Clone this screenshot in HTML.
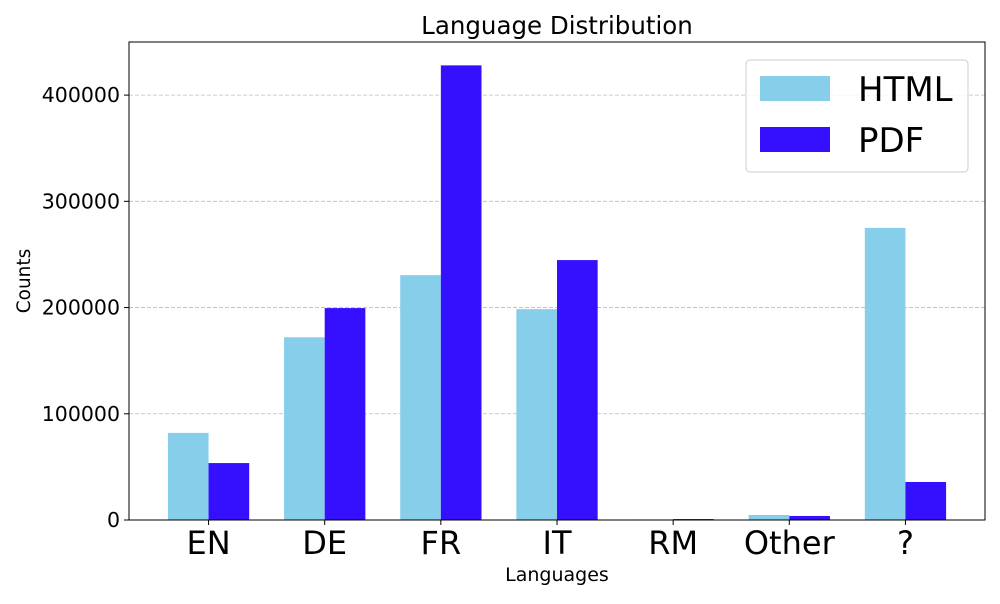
<!DOCTYPE html>
<html><head><meta charset="utf-8"><style>
body{margin:0;background:#fff;font-family:"DejaVu Sans","Liberation Sans",sans-serif}
</style></head><body>
<svg width="1000" height="600" xmlns="http://www.w3.org/2000/svg" font-family="DejaVu Sans, Liberation Sans, sans-serif">
<text x="557" y="34" text-anchor="middle" font-size="24.5">Language Distribution</text>
<g id="grid"></g>
<g id="bars"></g>
<rect x="129" y="42" width="856" height="478" fill="none" stroke="#000" stroke-width="1"/>
<g id="axes"></g>
<text x="557" y="581" text-anchor="middle" font-size="19">Languages</text>
<text transform="translate(30,281) rotate(-90)" text-anchor="middle" font-size="18.5">Counts</text>
<g>
<rect x="746" y="60" width="222" height="112" rx="4" fill="#fff" fill-opacity="0.8" stroke="#ccc"/>
<rect x="760" y="76" width="70" height="25" fill="#87CEEB"/>
<text x="858" y="101" font-size="34">HTML</text>
<rect x="760" y="127" width="70" height="25" fill="#3410FF"/>
<text x="858" y="152" font-size="34">PDF</text>
</g>
</svg>
<script>
const categories=["EN","DE","FR","IT","RM","Other","?"];
const htmlValues=[82000,172000,230500,198500,500,4700,275000];
const pdfValues=[53600,199500,428000,244700,900,3800,35800];
const yTicks=[0,100000,200000,300000,400000];
const NS="http://www.w3.org/2000/svg";
const x0=129,x1=985,yBase=520,yTop=42;
const xmin=-0.685,xmax=6.685,ymax=450000;
function xs(v){return x0+(v-xmin)/(xmax-xmin)*(x1-x0);}
function ys(v){return yBase-v/ymax*(yBase-yTop);}
function mk(t,a,p){const e=document.createElementNS(NS,t);for(const k in a)e.setAttribute(k,a[k]);p.appendChild(e);return e;}
const grid=document.getElementById('grid'),bars=document.getElementById('bars'),axes=document.getElementById('axes');
const w=0.35;
yTicks.forEach(t=>{
  const y=ys(t);
  if(t>0){const g=mk('line',{x1:x0,x2:x1,y1:y,y2:y,stroke:'#bbb','stroke-dasharray':'4,2','stroke-width':0.8},grid);
  
  }
  const tk=mk('line',{x1:x0-5,x2:x0,y1:y,y2:y,stroke:'#000'},axes);
  
  
  const tx=mk('text',{x:x0-9,y:y+7,'text-anchor':'end','font-size':20.5},axes);
  tx.textContent=t;
  
  
});
categories.forEach((c,i)=>{
  const hx=xs(i-w),px=xs(i),bw=xs(i+w)-xs(i);
  const hb=mk('rect',{x:hx,y:ys(htmlValues[i]),width:bw,height:yBase-ys(htmlValues[i]),fill:'#87CEEB'},bars);
  
  
  const pb=mk('rect',{x:px,y:ys(pdfValues[i]),width:bw,height:yBase-ys(pdfValues[i]),fill:'#3410FF'},bars);
  
  
  const tk=mk('line',{x1:xs(i),x2:xs(i),y1:yBase,y2:yBase+5,stroke:'#000'},axes);
  
  
  const tx=mk('text',{x:xs(i),y:554,'text-anchor':'middle','font-size':32},axes);
  tx.textContent=c;
  
  
});
</script>
</body></html>
